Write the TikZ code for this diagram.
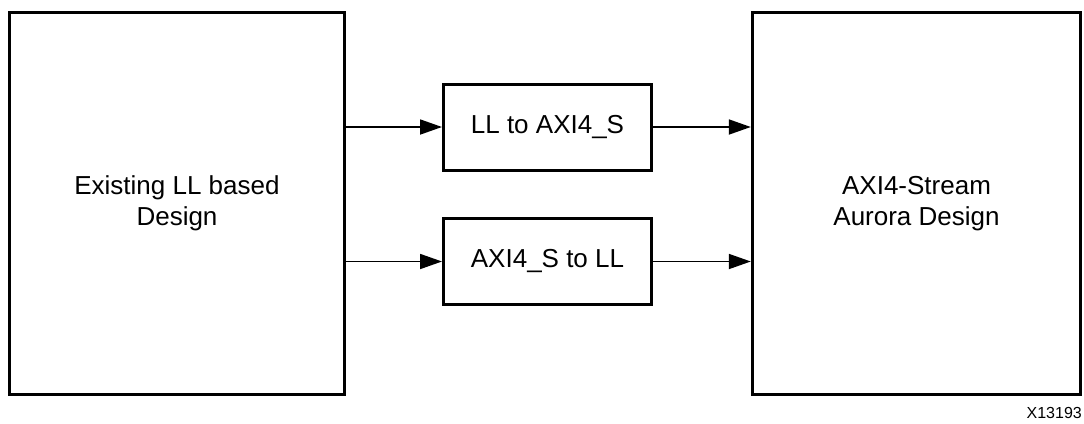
\documentclass[tikz,border=0pt]{standalone}
\usepackage{fontspec}
\setmainfont{Liberation Sans}
\usetikzlibrary{positioning,arrows.meta}
\tikzset{
  bigblk/.style={rectangle,draw=black,line width=3.4pt,align=center,
    font=\fontsize{26}{31}\selectfont,inner sep=0pt},
  cvtblk/.style={rectangle,draw=black,line width=3pt,align=center,
    font=\fontsize{26}{31}\selectfont,minimum width=208pt,minimum height=86pt,inner sep=0pt},
  flow/.style={-{Triangle[length=22pt,width=15pt]},line width=1.8pt},
}
\begin{document}
\begin{tikzpicture}[x=1pt,y=-1pt]
  \useasboundingbox (0,0) rectangle (1084,423);
  \node[bigblk,minimum width=335pt,minimum height=382pt] (llds) at (177,203.5) {Existing LL based\\Design};
  \node[bigblk,minimum width=328pt,minimum height=382pt] (axis) at (916.5,203.5) {AXI4-Stream\\Aurora Design};
  \node[cvtblk] (ll2axi) at (547.5,127) {LL to AXI4\_S};
  \node[cvtblk] (axi2ll) at (547.5,261.5) {AXI4\_S to LL};
  \draw[flow] (llds.east |- ll2axi.west) -- (ll2axi.west);
  \draw[flow] (ll2axi.east) -- (axis.west |- ll2axi.east);
  \draw[flow] (llds.east |- axi2ll.west) -- (axi2ll.west);
  \draw[flow] (axi2ll.east) -- (axis.west |- axi2ll.east);
  \node[anchor=base east,font=\fontsize{16}{18}\selectfont,inner sep=0pt] (fignum) at (1082,418) {X13193};
\end{tikzpicture}
\end{document}
